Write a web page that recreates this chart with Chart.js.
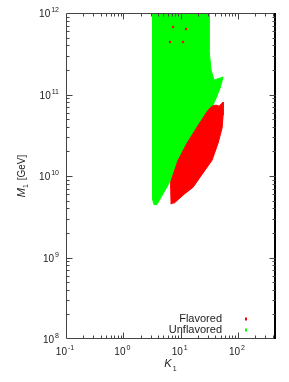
<!DOCTYPE html>
<html>
<head>
<meta charset="utf-8">
<script src="https://cdn.jsdelivr.net/npm/chart.js@4.4.1/dist/chart.umd.min.js"></script>
<style>
  html, body { margin: 0; padding: 0; background: #fff; }
  #wrap { width: 289px; height: 382px; }
</style>
</head>
<body>
<div id="wrap"><canvas id="c" width="289" height="382"></canvas></div>
<script>
  // axis ranges and tick labels
  const X_MIN = 0.1, X_MAX = 460;
  const Y_MIN = 1e8, Y_MAX = 1e12;
  const X_DECADES = [0.1, 1, 10, 100];
  const X_EXPONENTS = ["-1", "0", "1", "2"];
  const Y_DECADES = [1e8, 1e9, 1e10, 1e11, 1e12];
  const Y_EXPONENTS = ["8", "9", "10", "11", "12"];

  // outline of the flavored (red) scatter region, K1 vs M1 [GeV]
  const FLAVORED = [
    {x: 6.80, y: 4.50e9}, {x: 6.66, y: 8.39e9}, {x: 9.01, y: 1.56e10},
    {x: 12.9, y: 2.53e10}, {x: 19.3, y: 3.98e10}, {x: 30.1, y: 6.43e10},
    {x: 35.3, y: 7.20e10}, {x: 41.5, y: 7.41e10}, {x: 46.8, y: 7.20e10},
    {x: 55.0, y: 8.07e10}, {x: 55.0, y: 5.58e10}, {x: 52.8, y: 3.87e10},
    {x: 44.9, y: 2.53e10}, {x: 35.3, y: 1.56e10}, {x: 21.8, y: 9.66e9},
    {x: 16.5, y: 7.28e9}, {x: 11.5, y: 5.98e9}, {x: 7.67, y: 4.63e9}
  ];

  // outline of the unflavored (green) scatter region
  const UNFLAVORED = [
    {x: 3.23, y: 1.3e12}, {x: 3.23, y: 5.19e9}, {x: 3.43, y: 4.44e9},
    {x: 3.88, y: 4.50e9}, {x: 6.40, y: 8.39e9}, {x: 9.5, y: 1.56e10},
    {x: 13.6, y: 2.53e10}, {x: 20.3, y: 3.98e10}, {x: 31.5, y: 6.43e10},
    {x: 36.0, y: 7.20e10}, {x: 41.5, y: 9.03e10}, {x: 48.7, y: 1.20e11},
    {x: 55.0, y: 1.64e11}, {x: 38.3, y: 1.50e11}, {x: 33.9, y: 1.99e11},
    {x: 31.3, y: 3.51e11}, {x: 32.0, y: 6.18e11}, {x: 31.3, y: 1.3e12}
  ];

  // a few red points lying inside the green region
  const FLAVORED_STRAY = [
    {x: 7.37, y: 6.73e11}, {x: 12.4, y: 6.36e11},
    {x: 6.53, y: 4.40e11}, {x: 11.0, y: 4.40e11}
  ];

  const SERIES_LABELS = ["Flavored", "Unflavored"];
  const SERIES_COLORS = ["#ff0000", "#00ff00"];

  function minorTicks(decades, min, max){
    const out = [];
    decades.concat([decades[decades.length - 1] * 10]).forEach(d => {
      for (let m = 2; m <= 9; m++){
        const v = d * m;
        if (v > min && v < max) out.push(v);
      }
    });
    return out;
  }

  function drawPow(ctx, exp, x, baseline, align){
    ctx.font = "10px 'Liberation Sans', Arial, sans-serif";
    const wb = ctx.measureText("10").width;
    ctx.font = "7px 'Liberation Sans', Arial, sans-serif";
    const we = ctx.measureText(exp).width;
    const total = wb + 1 + we;
    let left = align === "right" ? x - total : x - total / 2;
    ctx.textAlign = "left";
    ctx.textBaseline = "alphabetic";
    ctx.font = "10px 'Liberation Sans', Arial, sans-serif";
    ctx.fillText("10", left, baseline);
    ctx.font = "7px 'Liberation Sans', Arial, sans-serif";
    ctx.fillText(exp, left + wb + 1, baseline - 5);
  }

  const framePlugin = {
    id: "frame",
    afterDraw(chart){
      const {ctx, chartArea: a, scales: {x, y}} = chart;
      const L = a.left + 0.5, R = a.right - 0.5, T = a.top + 0.5, B = a.bottom - 0.5;
      ctx.save();
      ctx.strokeStyle = "#444";
      ctx.lineWidth = 1;
      ctx.beginPath();
      ctx.moveTo(R, T); ctx.lineTo(L, T); ctx.lineTo(L, B); ctx.lineTo(R, B);
      ctx.stroke();
      ctx.strokeStyle = "#000";
      ctx.lineWidth = 2;
      ctx.beginPath();
      ctx.moveTo(a.right - 1, a.top); ctx.lineTo(a.right - 1, a.bottom);
      ctx.stroke();

      // tick marks, inward on all four sides
      ctx.strokeStyle = "#444";
      ctx.lineWidth = 1;
      ctx.beginPath();
      const xt = X_DECADES.map(v => [v, 6]).concat(minorTicks(X_DECADES, X_MIN, X_MAX).map(v => [v, 3]));
      xt.forEach(([v, len]) => {
        const px = Math.round(x.getPixelForValue(v)) + 0.5;
        if (px <= L || px >= R) return;
        ctx.moveTo(px, B); ctx.lineTo(px, B - len);
        ctx.moveTo(px, T); ctx.lineTo(px, T + len);
      });
      const yt = Y_DECADES.map(v => [v, 6]).concat(minorTicks(Y_DECADES, Y_MIN, Y_MAX).map(v => [v, 3]));
      yt.forEach(([v, len]) => {
        const py = Math.round(y.getPixelForValue(v)) + 0.5;
        if (py <= T || py >= B) return;
        ctx.moveTo(L, py); ctx.lineTo(L + len, py);
        ctx.moveTo(R, py); ctx.lineTo(R - len, py);
      });
      ctx.stroke();

      // tick labels
      ctx.fillStyle = "#222";
      X_DECADES.forEach((v, i) => {
        drawPow(ctx, X_EXPONENTS[i], x.getPixelForValue(v) - 1, a.bottom + 16, "center");
      });
      Y_DECADES.forEach((v, i) => {
        drawPow(ctx, Y_EXPONENTS[i], a.left - 7, y.getPixelForValue(v) + 4, "right");
      });

      // x title: K_1
      const cx = (a.left + a.right) / 2;
      ctx.textAlign = "left";
      ctx.font = "italic 11px 'Liberation Sans', Arial, sans-serif";
      const wk = ctx.measureText("K").width;
      ctx.fillText("K", cx - wk / 2 - 3, a.bottom + 28);
      ctx.font = "7px 'Liberation Sans', Arial, sans-serif";
      ctx.fillText("1", cx + wk / 2 - 2, a.bottom + 32);

      // y title: M_1 [GeV]
      ctx.save();
      ctx.translate(25, (a.top + a.bottom) / 2);
      ctx.rotate(-Math.PI / 2);
      ctx.font = "italic 11px 'Liberation Sans', Arial, sans-serif";
      const wm = ctx.measureText("M").width;
      ctx.font = "7px 'Liberation Sans', Arial, sans-serif";
      const w1 = ctx.measureText("1").width;
      ctx.font = "10px 'Liberation Sans', Arial, sans-serif";
      const wg = ctx.measureText(" [GeV]").width;
      let sx = -(wm + w1 + 1 + wg) / 2;
      ctx.font = "italic 11px 'Liberation Sans', Arial, sans-serif";
      ctx.fillText("M", sx, 0);
      ctx.font = "7px 'Liberation Sans', Arial, sans-serif";
      ctx.fillText("1", sx + wm, 3);
      ctx.font = "10px 'Liberation Sans', Arial, sans-serif";
      ctx.fillText(" [GeV]", sx + wm + w1 + 1, 0);
      ctx.restore();

      // legend in the lower right of the plot
      ctx.font = "11px 'Liberation Sans', Arial, sans-serif";
      ctx.textAlign = "right";
      SERIES_LABELS.forEach((lab, i) => {
        const base = a.bottom - 17 + i * 11;
        ctx.fillStyle = "#222";
        ctx.fillText(lab, 222, base);
        ctx.fillStyle = SERIES_COLORS[i];
        ctx.fillRect(245, base - 4, 2, 2);
        ctx.fillRect(245.5, base - 5, 1, 4);
      });
      ctx.restore();
    }
  };

  new Chart(document.getElementById("c"), {
    type: "line",
    data: {
      datasets: [
        {
          label: "stray",
          data: FLAVORED_STRAY,
          showLine: false,
          pointRadius: 1.2,
          pointBorderWidth: 0,
          pointBackgroundColor: SERIES_COLORS[0]
        },
        {
          label: SERIES_LABELS[0],
          data: FLAVORED,
          borderColor: SERIES_COLORS[0],
          backgroundColor: SERIES_COLORS[0],
          borderWidth: 1,
          pointRadius: 0,
          fill: "shape",
          clip: 0
        },
        {
          label: SERIES_LABELS[1],
          data: UNFLAVORED,
          borderColor: SERIES_COLORS[1],
          backgroundColor: SERIES_COLORS[1],
          borderWidth: 1,
          pointRadius: 0,
          fill: "shape",
          clip: 0
        }
      ]
    },
    options: {
      responsive: false,
      animation: false,
      devicePixelRatio: 1,
      layout: { padding: { left: 66, top: 13, right: 13, bottom: 43 } },
      plugins: { legend: { display: false }, tooltip: { enabled: false } },
      elements: { line: { tension: 0 } },
      scales: {
        x: { type: "logarithmic", min: X_MIN, max: X_MAX, display: false },
        y: { type: "logarithmic", min: Y_MIN, max: Y_MAX, display: false }
      }
    },
    plugins: [framePlugin]
  });
</script>
</body>
</html>
